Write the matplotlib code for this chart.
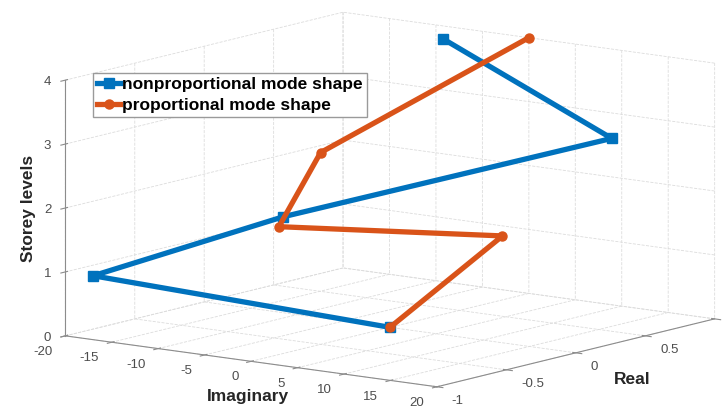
import matplotlib.pyplot as plt

# storey levels and mode shape components
storey = [0, 1, 2, 3, 4]
nonprop_imag = [0, -17.0, -2.5, 16.1, -5.7]
nonprop_real = [0, -1.0, -0.60, 0.52, 0.76]
prop_imag = [0, 0, 0, 0, 0]
prop_real = [0, 0.81, -0.80, -0.50, 1.0]

imag_ticks = [-20, -15, -10, -5, 0, 5, 10, 15, 20]
real_ticks = [-1, -0.5, 0, 0.5, 1]
real_labels = ['-1', '-0.5', '0', '0.5', '']  # the "1" falls outside the picture
storey_ticks = [0, 1, 2, 3, 4]

plt.rcParams['font.family'] = ['Liberation Sans', 'DejaVu Sans']
plt.rcParams['grid.color'] = '#dcdcdc'
plt.rcParams['grid.linestyle'] = '--'
plt.rcParams['grid.linewidth'] = 0.6
try:
    plt.rcParams['axes3d.automargin'] = False
except KeyError:
    pass

fig = plt.figure(figsize=(7.28, 4.07), dpi=100)
fig.patch.set_facecolor('white')

# -- square 3d axes, orthographic view like matlab
ax = fig.add_axes([0.2486, -0.0037, 0.5591, 1.0], projection='3d', proj_type='ortho')
ax.set_box_aspect((464.7, 463.9, 260.4), zoom=1.683)
ax.view_init(elev=10.55, azim=-53.18)

ax.plot(nonprop_imag, nonprop_real, storey, color='#0072BD', lw=3.8,
        marker='s', ms=6.5, label='nonproportional mode shape', clip_on=False)
ax.plot(prop_imag, prop_real, storey, color='#D95319', lw=3.8,
        marker='o', ms=6.5, label='proportional mode shape', clip_on=False)

ax.set_xlim(-20, 20)
ax.set_ylim(-1, 1)
ax.set_zlim(0, 4)
ax.set_xticks(imag_ticks)
ax.set_xticklabels(['%g' % v for v in imag_ticks], ha='right', va='center_baseline')
ax.set_yticks(real_ticks)
ax.set_yticklabels(real_labels, ha='left', va='center_baseline')
ax.set_zticks(storey_ticks)
ax.set_zticklabels(['%g' % v for v in storey_ticks], ha='right', va='center_baseline')

# -- storey axis on the left edge
ax.zaxis.set_ticks_position('lower')

for axis in (ax.xaxis, ax.yaxis, ax.zaxis):
    axis.set_pane_color((1, 1, 1, 1))
    axis.pane.set_edgecolor('white')
    axis.line.set_color('#8c8c8c')
    axis.line.set_linewidth(0.8)
ax.tick_params(colors='#8c8c8c')
ax.tick_params(labelsize=9.5, labelcolor='#4d4d4d')
ax.tick_params(axis='x', pad=-1.1)
ax.tick_params(axis='y', pad=-1.9)
ax.tick_params(axis='z', pad=-4.7)

# -- axis titles
lab = dict(fontsize=12.5, fontweight='bold', color='#262626', ha='center', va='center')
fig.text(248 / 728, 1 - 396 / 407, 'Imaginary', **lab)
fig.text(632 / 728, 1 - 380 / 407, 'Real', **lab)
fig.text(28 / 728, 1 - 208 / 407, 'Storey levels', rotation=90, **lab)

fig.legend(loc='upper left', bbox_to_anchor=(93 / 728, 1 - 73 / 407),
           borderaxespad=0, fancybox=False, edgecolor='#9a9a9a', framealpha=1,
           prop={'weight': 'bold', 'size': 12.5}, handlelength=1.3,
           handletextpad=0.1, labelspacing=0.3, borderpad=0.25, numpoints=1)

fig.savefig('out.png', dpi=100, facecolor='white')
